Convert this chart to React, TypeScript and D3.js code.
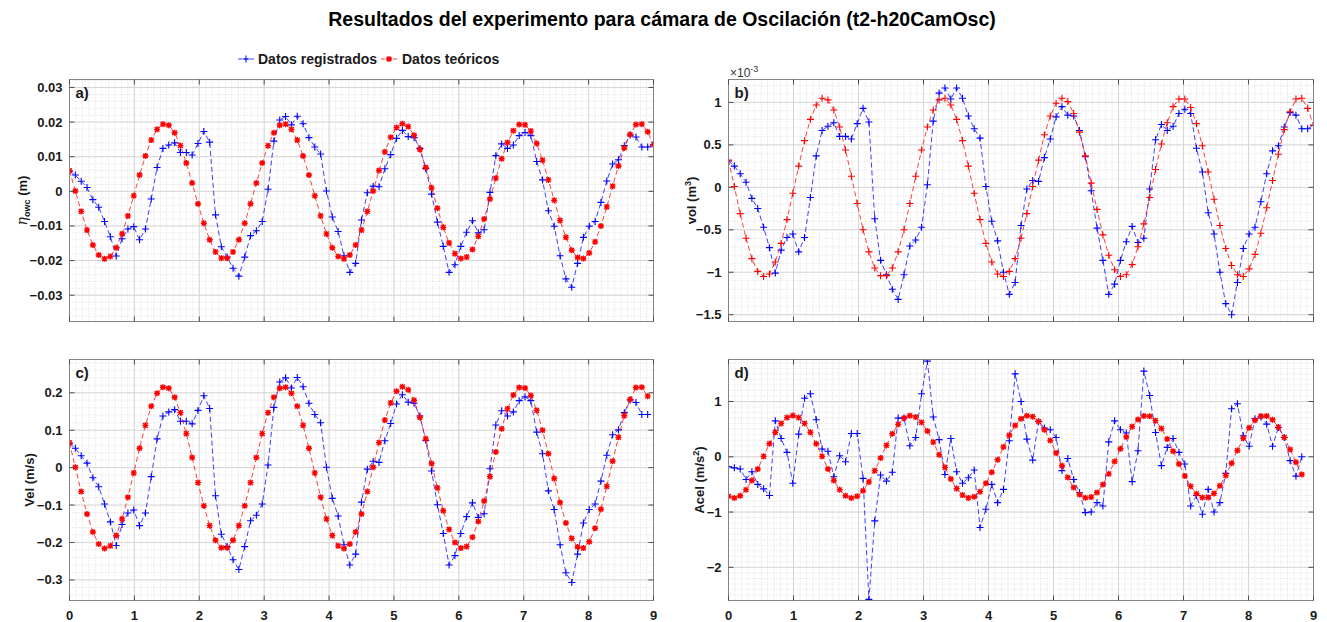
import React from "react";
import * as d3 from "d3";

// sample times (s)
const time = [
  0, 0.09, 0.18, 0.27, 0.36, 0.45, 0.54, 0.63, 0.72, 0.81,
  0.9, 0.99, 1.08, 1.17, 1.26, 1.35, 1.44, 1.53, 1.62, 1.71,
  1.8, 1.89, 1.98, 2.07, 2.16, 2.25, 2.34, 2.43, 2.52, 2.61,
  2.7, 2.79, 2.88, 2.97, 3.06, 3.15, 3.24, 3.33, 3.42, 3.51,
  3.6, 3.69, 3.78, 3.87, 3.96, 4.05, 4.14, 4.23, 4.32, 4.41,
  4.5, 4.59, 4.68, 4.77, 4.86, 4.95, 5.04, 5.13, 5.22, 5.31,
  5.4, 5.49, 5.58, 5.67, 5.76, 5.85, 5.94, 6.03, 6.12, 6.21,
  6.3, 6.39, 6.48, 6.57, 6.66, 6.75, 6.84, 6.93, 7.02, 7.11,
  7.2, 7.29, 7.38, 7.47, 7.56, 7.65, 7.74, 7.83, 7.92, 8.01,
  8.1, 8.19, 8.28, 8.37, 8.46, 8.55, 8.64, 8.73, 8.82, 8.91,
  9.0,
];

// a) eta_owc (m)
const etaReg = [
  0.0058, 0.0047, 0.0029, 0.0011, -0.0024, -0.0046, -0.0087, -0.0131, -0.0187, -0.0137,
  -0.0109, -0.0102, -0.014, -0.0109, -0.0022, 0.0069, 0.0124, 0.0134, 0.014, 0.0112,
  0.0112, 0.0105, 0.0138, 0.0173, 0.0142, -0.0068, -0.016, -0.019, -0.0222, -0.0245,
  -0.019, -0.0128, -0.0114, -0.0087, 0.0006, 0.0145, 0.0206, 0.0216, 0.0192, 0.0217,
  0.0195, 0.0155, 0.0128, 0.0108, 0.0001, -0.0074, -0.0116, -0.0186, -0.0234, -0.0208,
  -0.0083, -0.0004, 0.0015, 0.0013, 0.0065, 0.0106, 0.0153, 0.0176, 0.0158, 0.0155,
  0.0124, 0.0066, -0.0008, -0.0089, -0.0159, -0.0234, -0.0212, -0.0159, -0.0118, -0.0085,
  -0.012, -0.0111, -0.0003, 0.0103, 0.0137, 0.0124, 0.0134, 0.0161, 0.017, 0.0161,
  0.0086, 0.0033, -0.0056, -0.0101, -0.0186, -0.0253, -0.0277, -0.0208, -0.0133, -0.0101,
  -0.0087, -0.0032, 0.003, 0.0079, 0.0091, 0.0132, 0.0163, 0.0157, 0.0128, 0.0128,
  0.0135,
];
const etaTeo = [
  0.006, 0.0001, -0.0058, -0.0112, -0.0155, -0.0184, -0.0195, -0.0188, -0.0163, -0.0123,
  -0.0071, -0.0013, 0.0047, 0.0102, 0.0148, 0.0179, 0.0194, 0.0191, 0.0169, 0.0132,
  0.0082, 0.0024, -0.0036, -0.0092, -0.014, -0.0175, -0.0193, -0.0193, -0.0175, -0.014,
  -0.0092, -0.0036, 0.0024, 0.0082, 0.0132, 0.0169, 0.0191, 0.0194, 0.0179, 0.0148,
  0.0102, 0.0047, -0.0013, -0.0071, -0.0123, -0.0163, -0.0188, -0.0195, -0.0184, -0.0155,
  -0.0112, -0.0058, 0.0001, 0.006, 0.0114, 0.0156, 0.0184, 0.0195, 0.0187, 0.0162,
  0.0121, 0.0069, 0.001, -0.0049, -0.0104, -0.0149, -0.018, -0.0194, -0.019, -0.0168,
  -0.013, -0.008, -0.0022, 0.0038, 0.0094, 0.0141, 0.0175, 0.0193, 0.0192, 0.0174,
  0.0138, 0.009, 0.0033, -0.0026, -0.0084, -0.0133, -0.017, -0.0191, -0.0194, -0.0178,
  -0.0146, -0.01, -0.0045, 0.0015, 0.0073, 0.0125, 0.0164, 0.0193, 0.0194, 0.0172,
  0.0135,
];

// b) vol (x10^-3 m^3)
const volReg = [
  0.31, 0.25, 0.16, 0.06, -0.13, -0.25, -0.47, -0.71, -1.01, -0.74,
  -0.59, -0.55, -0.76, -0.59, -0.12, 0.37, 0.67, 0.72, 0.76, 0.6,
  0.6, 0.57, 0.75, 0.93, 0.77, -0.37, -0.86, -1.03, -1.2, -1.32,
  -1.03, -0.69, -0.62, -0.47, 0.03, 0.78, 1.11, 1.17, 1.04, 1.17,
  1.05, 0.84, 0.69, 0.58, 0.01, -0.4, -0.63, -1.0, -1.26, -1.12,
  -0.45, -0.02, 0.08, 0.07, 0.35, 0.57, 0.83, 0.95, 0.85, 0.84,
  0.67, 0.36, -0.04, -0.48, -0.86, -1.26, -1.14, -0.86, -0.64, -0.46,
  -0.65, -0.6, -0.02, 0.56, 0.74, 0.67, 0.72, 0.87, 0.92, 0.87,
  0.46, 0.18, -0.3, -0.55, -1.0, -1.37, -1.5, -1.12, -0.72, -0.55,
  -0.47, -0.17, 0.16, 0.43, 0.49, 0.71, 0.88, 0.85, 0.69, 0.69,
  0.73,
];
const volTeo = [
  0.32, 0.01, -0.31, -0.6, -0.84, -0.99, -1.05, -1.02, -0.88, -0.66,
  -0.38, -0.07, 0.25, 0.55, 0.8, 0.97, 1.05, 1.03, 0.91, 0.71,
  0.44, 0.13, -0.19, -0.5, -0.76, -0.95, -1.04, -1.04, -0.95, -0.76,
  -0.5, -0.19, 0.13, 0.44, 0.71, 0.91, 1.03, 1.05, 0.97, 0.8,
  0.55, 0.25, -0.07, -0.38, -0.66, -0.88, -1.02, -1.05, -0.99, -0.84,
  -0.6, -0.31, 0.01, 0.32, 0.62, 0.84, 0.99, 1.05, 1.01, 0.87,
  0.65, 0.37, 0.05, -0.26, -0.56, -0.8, -0.97, -1.05, -1.03, -0.91,
  -0.7, -0.43, -0.12, 0.21, 0.51, 0.76, 0.95, 1.04, 1.04, 0.94,
  0.75, 0.49, 0.18, -0.14, -0.45, -0.72, -0.92, -1.03, -1.05, -0.96,
  -0.79, -0.54, -0.24, 0.08, 0.39, 0.68, 0.89, 1.04, 1.05, 0.93,
  0.73,
];

// c) Vel (m/s)
const velReg = [
  0.064, 0.052, 0.032, 0.012, -0.027, -0.051, -0.097, -0.145, -0.208, -0.152,
  -0.121, -0.113, -0.155, -0.121, -0.024, 0.077, 0.138, 0.149, 0.155, 0.124,
  0.124, 0.117, 0.153, 0.192, 0.158, -0.075, -0.178, -0.211, -0.246, -0.272,
  -0.211, -0.142, -0.127, -0.097, 0.007, 0.161, 0.229, 0.24, 0.213, 0.241,
  0.216, 0.172, 0.142, 0.12, 0.001, -0.082, -0.129, -0.206, -0.26, -0.231,
  -0.092, -0.004, 0.017, 0.014, 0.072, 0.118, 0.17, 0.195, 0.175, 0.172,
  0.138, 0.073, -0.009, -0.099, -0.176, -0.26, -0.235, -0.176, -0.131, -0.094,
  -0.133, -0.123, -0.003, 0.114, 0.152, 0.138, 0.149, 0.179, 0.189, 0.179,
  0.095, 0.037, -0.062, -0.112, -0.206, -0.281, -0.307, -0.231, -0.148, -0.112,
  -0.097, -0.036, 0.033, 0.088, 0.101, 0.147, 0.181, 0.174, 0.142, 0.142,
];
const velTeo = [
  0.067, 0.001, -0.064, -0.124, -0.172, -0.204, -0.216, -0.209, -0.181, -0.137,
  -0.079, -0.014, 0.052, 0.113, 0.164, 0.199, 0.215, 0.212, 0.188, 0.147,
  0.091, 0.027, -0.04, -0.102, -0.155, -0.194, -0.214, -0.214, -0.194, -0.155,
  -0.102, -0.04, 0.027, 0.091, 0.147, 0.188, 0.212, 0.215, 0.199, 0.164,
  0.113, 0.052, -0.014, -0.079, -0.137, -0.181, -0.209, -0.216, -0.204, -0.172,
  -0.124, -0.064, 0.001, 0.067, 0.127, 0.173, 0.204, 0.216, 0.208, 0.18,
  0.134, 0.077, 0.011, -0.054, -0.115, -0.165, -0.2, -0.215, -0.211, -0.186,
  -0.144, -0.089, -0.024, 0.042, 0.104, 0.157, 0.194, 0.214, 0.213, 0.193,
  0.153, 0.1, 0.037, -0.029, -0.093, -0.148, -0.189, -0.212, -0.215, -0.198,
  -0.162, -0.111, -0.05, 0.017, 0.081, 0.139, 0.182, 0.214, 0.215, 0.191,
];

// d) Acel (m/s^2)
const acelReg = [
  -0.18, -0.2, -0.22, -0.41, -0.27, -0.5, -0.58, -0.7, 0.65, 0.33,
  0.08, -0.48, 0.41, 1.06, 1.14, 0.67, 0.14, 0.1, -0.36, 0.02,
  -0.09, 0.42, 0.42, -0.39, -2.58, -1.16, -0.33, -0.44, -0.28, 0.7,
  0.7, 0.2, 0.35, 1.14, 1.73, 0.72, 0.31, -0.32, 0.33, -0.27,
  -0.48, -0.38, -0.24, -1.28, -0.95, -0.5, -0.83, -0.59, 0.29, 1.5,
  1.0, 0.32, -0.06, 0.64, 0.52, 0.49, 0.35, -0.25, -0.03, -0.41,
  -0.65, -1.01, -1.0, -0.83, -0.89, 0.27, 0.65, 0.49, 0.43, -0.45,
  0.11, 1.55, 1.11, 0.44, -0.16, 0.17, 0.33, 0.08, -0.13, -0.89,
  -0.7, -1.04, -0.59, -1.0, -0.83, -0.3, 0.87, 0.96, 0.38, 0.19,
  0.69, 0.72, 0.59, 0.19, 0.53, 0.35, -0.07, -0.35, 0.0,
];
const acelTeo = [
  -0.714, -0.745, -0.704, -0.595, -0.429, -0.221, 0.008, 0.236, 0.442, 0.604,
  0.709, 0.745, 0.709, 0.604, 0.442, 0.236, 0.008, -0.221, -0.429, -0.595,
  -0.704, -0.745, -0.714, -0.614, -0.454, -0.251, -0.023, 0.206, 0.416, 0.586,
  0.699, 0.744, 0.718, 0.622, 0.466, 0.265, 0.039, -0.191, -0.403, -0.576,
  -0.693, -0.744, -0.722, -0.631, -0.478, -0.28, -0.055, 0.176, 0.39, 0.566,
  0.688, 0.742, 0.726, 0.639, 0.49, 0.294, 0.07, -0.161, -0.376, -0.556,
  -0.681, -0.741, -0.729, -0.647, -0.502, -0.309, -0.086, 0.146, 0.363, 0.545,
  0.675, 0.739, 0.732, 0.654, 0.513, 0.323, 0.101, -0.13, -0.349, -0.535,
  -0.668, -0.737, -0.735, -0.662, -0.525, -0.337, -0.117, 0.115, 0.335, 0.524,
  0.661, 0.735, 0.737, 0.669, 0.536, 0.351, 0.132, -0.1, -0.321,
];

const xTickValues = [0, 1, 2, 3, 4, 5, 6, 7, 8, 9];
const etaTicks = [-0.03, -0.02, -0.01, 0, 0.01, 0.02, 0.03];
const volTicks = [-1.5, -1, -0.5, 0, 0.5, 1];
const velTicks = [-0.3, -0.2, -0.1, 0, 0.1, 0.2];
const acelTicks = [-2, -1, 0, 1];

const title = "Resultados del experimento para cámara de Oscilación (t2-h20CamOsc)";
const legendNames = ["Datos registrados", "Datos teóricos"];

const FONT = "'Liberation Sans', Arial, Helvetica, sans-serif";
const BLUE = "#0000ff";
const RED = "#ff0000";
const PLUS = "M-3.5,0H3.5M0,-3.5V3.5";
const STAR = "M-3,0H3M0,-3V3M-2.3,-2.3L2.3,2.3M-2.3,2.3L2.3,-2.3";

type Box = { left: number; right: number; top: number; bottom: number };

type PanelProps = {
  id: string;
  box: Box;
  yDomain: [number, number];
  yTicks: number[];
  yMinor: number;
  showXLabels: boolean;
  reg: number[];
  teo: number[];
  teoMarker: string;
  tag: string;
  yLabel: React.ReactNode;
  yLabelX: number;
};

const Series = ({ values, color, marker, x, y }: any) => {
  const line = d3
    .line<number>()
    .x((_, i) => x(time[i]))
    .y((d) => y(d));
  const heavy = marker === STAR;
  return (
    <g>
      <path
        d={line(values) || ""}
        fill="none"
        stroke={color}
        strokeOpacity={0.75}
        strokeWidth={1}
        strokeDasharray="5,3"
      />
      {values.map((v: number, i: number) => (
        <path
          key={i}
          d={marker}
          transform={`translate(${x(time[i])},${y(v)})`}
          stroke={color}
          strokeWidth={heavy ? 1.4 : 1.1}
          fill="none"
        />
      ))}
    </g>
  );
};

const Panel = ({
  id,
  box,
  yDomain,
  yTicks,
  yMinor,
  showXLabels,
  reg,
  teo,
  teoMarker,
  tag,
  yLabel,
  yLabelX,
}: PanelProps) => {
  const x = d3.scaleLinear().domain([0, 9]).range([box.left, box.right]);
  const y = d3.scaleLinear().domain(yDomain).range([box.bottom, box.top]);
  const xMinor = d3.range(1, 90).map((k) => k / 10);
  const yMinorTicks = d3
    .range(Math.ceil(yDomain[0] / yMinor), Math.floor(yDomain[1] / yMinor) + 1)
    .map((k) => k * yMinor);
  const tk = 5;

  return (
    <g>
      <clipPath id={`clip-${id}`}>
        <rect x={box.left} y={box.top} width={box.right - box.left} height={box.bottom - box.top} />
      </clipPath>
      <rect x={box.left} y={box.top} width={box.right - box.left} height={box.bottom - box.top} fill="#fff" />

      {/* minor grid */}
      <g stroke="#c4c4c4" strokeWidth={0.6} strokeDasharray="1,2">
        {xMinor.map((t) => (
          <line key={`xm${t}`} x1={x(t)} x2={x(t)} y1={box.top} y2={box.bottom} />
        ))}
        {yMinorTicks.map((v, i) => (
          <line key={`ym${i}`} x1={box.left} x2={box.right} y1={y(v)} y2={y(v)} />
        ))}
      </g>
      {/* major grid */}
      <g stroke="#d6d6d6" strokeWidth={1}>
        {xTickValues.map((t) => (
          <line key={`xg${t}`} x1={x(t)} x2={x(t)} y1={box.top} y2={box.bottom} />
        ))}
        {yTicks.map((v) => (
          <line key={`yg${v}`} x1={box.left} x2={box.right} y1={y(v)} y2={y(v)} />
        ))}
      </g>

      <g clipPath={`url(#clip-${id})`}>
        <Series values={reg} color={BLUE} marker={PLUS} x={x} y={y} />
        <Series values={teo} color={RED} marker={teoMarker} x={x} y={y} />
      </g>

      {/* box and ticks */}
      <rect
        x={box.left}
        y={box.top}
        width={box.right - box.left}
        height={box.bottom - box.top}
        fill="none"
        stroke="#858585"
        strokeWidth={1}
      />
      <g stroke="#4d4d4d" strokeWidth={1}>
        {xTickValues.map((t) => (
          <g key={`xt${t}`}>
            <line x1={x(t)} x2={x(t)} y1={box.bottom} y2={box.bottom - tk} />
            <line x1={x(t)} x2={x(t)} y1={box.top} y2={box.top + tk} />
          </g>
        ))}
        {yTicks.map((v) => (
          <g key={`yt${v}`}>
            <line x1={box.left} x2={box.left + tk} y1={y(v)} y2={y(v)} />
            <line x1={box.right} x2={box.right - tk} y1={y(v)} y2={y(v)} />
          </g>
        ))}
      </g>

      <g fontFamily={FONT} fontWeight="bold" fontSize={13} fill="#1a1a1a">
        {yTicks.map((v) => (
          <text key={`yl${v}`} x={box.left - 7} y={y(v) + 4.5} textAnchor="end">
            {d3.format("~g")(v)}
          </text>
        ))}
        {showXLabels &&
          xTickValues.map((t) => (
            <text key={`xl${t}`} x={x(t)} y={box.bottom + 19} textAnchor="middle">
              {t}
            </text>
          ))}
        <text x={box.left + 6} y={box.top + 18} fontSize={15}>
          {tag}
        </text>
        <text
          transform={`translate(${yLabelX},${(box.top + box.bottom) / 2}) rotate(-90)`}
          textAnchor="middle"
        >
          {yLabel}
        </text>
      </g>
    </g>
  );
};

const left = { left: 69.5, right: 653.5 };
const right = { left: 728.5, right: 1313.5 };
const topRow = { top: 79.5, bottom: 321.5 };
const bottomRow = { top: 359.5, bottom: 600.5 };

export default function App() {
  return (
    <svg
      width={1327}
      height={622}
      style={{ position: "absolute", left: 0, top: 0, background: "#fff" }}
    >
      <text
        x={662}
        y={26}
        textAnchor="middle"
        fontFamily={FONT}
        fontWeight="bold"
        fontSize={19.5}
        fill="#000"
      >
        {title}
      </text>

      {/* legend */}
      <g fontFamily={FONT} fontWeight="bold" fontSize={14} fill="#1a1a1a">
        <line x1={238} x2={254} y1={59} y2={59} stroke={BLUE} strokeOpacity={0.75} strokeDasharray="4,2" />
        <path d={PLUS} transform="translate(246,59)" stroke={BLUE} fill="none" />
        <text x={258} y={64}>{legendNames[0]}</text>
        <line x1={381} x2={397} y1={59} y2={59} stroke={RED} strokeOpacity={0.75} strokeDasharray="4,2" />
        <path d={STAR} transform="translate(389,59)" stroke={RED} strokeWidth={1.3} fill="none" />
        <text x={402} y={64}>{legendNames[1]}</text>
      </g>

      <Panel
        id="a"
        box={{ ...left, ...topRow }}
        yDomain={[-0.0376, 0.0323]}
        yTicks={etaTicks}
        yMinor={0.002}
        showXLabels={false}
        reg={etaReg}
        teo={etaTeo}
        teoMarker={STAR}
        tag="a)"
        yLabelX={27}
        yLabel={
          <>
            <tspan fontFamily="'DejaVu Serif', serif" fontStyle="italic" fontWeight="normal" fontSize={14}>
              η
            </tspan>
            <tspan fontSize={9} dy={3}>owc</tspan>
            <tspan dy={-3}> (m)</tspan>
          </>
        }
      />
      <Panel
        id="b"
        box={{ ...right, ...topRow }}
        yDomain={[-1.58, 1.27]}
        yTicks={volTicks}
        yMinor={0.1}
        showXLabels={false}
        reg={volReg}
        teo={volTeo}
        teoMarker={PLUS}
        tag="b)"
        yLabelX={696}
        yLabel={
          <>
            vol (m<tspan fontSize={9} dy={-5}>3</tspan>
            <tspan dy={5}>)</tspan>
          </>
        }
      />
      <Panel
        id="c"
        box={{ ...left, ...bottomRow }}
        yDomain={[-0.355, 0.289]}
        yTicks={velTicks}
        yMinor={0.02}
        showXLabels={true}
        reg={velReg}
        teo={velTeo}
        teoMarker={STAR}
        tag="c)"
        yLabelX={34}
        yLabel="Vel (m/s)"
      />
      <Panel
        id="d"
        box={{ ...right, ...bottomRow }}
        yDomain={[-2.6, 1.76]}
        yTicks={acelTicks}
        yMinor={0.1}
        showXLabels={true}
        reg={acelReg}
        teo={acelTeo}
        teoMarker={STAR}
        tag="d)"
        yLabelX={704}
        yLabel={
          <>
            Acel (m/s<tspan fontSize={9} dy={-5}>2</tspan>
            <tspan dy={5}>)</tspan>
          </>
        }
      />

      <text x={730} y={77} fontFamily={FONT} fontSize={12} fill="#333">
        ×10<tspan fontSize={9} dy={-5}>-3</tspan>
      </text>
    </svg>
  );
}
